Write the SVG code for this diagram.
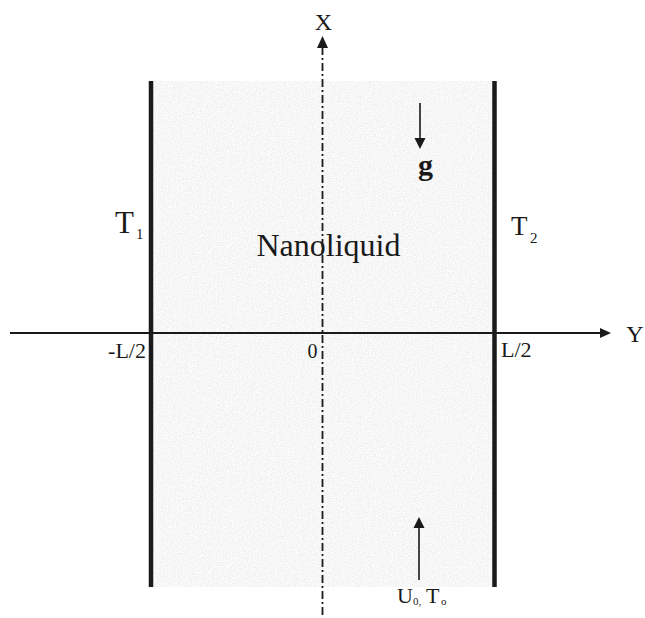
<svg xmlns="http://www.w3.org/2000/svg" width="645" height="618" viewBox="0 0 645 618">
  <style>
    text { font-family: "Liberation Serif", "Times New Roman", serif; fill: #1a1a1a; }
    .ax { stroke: #1a1a1a; stroke-width: 2; fill: none; }
    .wall { stroke: #1a1a1a; stroke-width: 4.5; fill: none; }
    .dash { stroke: #1a1a1a; stroke-width: 1.8; stroke-dasharray: 8 3 2 3; fill: none; }
    .arr { stroke: #1a1a1a; stroke-width: 1.6; fill: none; }
    .head { fill: #1a1a1a; }
  </style>
  <defs>
    <filter id="grain" x="0" y="0" width="100%" height="100%">
      <feTurbulence type="fractalNoise" baseFrequency="0.8" numOctaves="2" seed="7" result="n"/>
      <feColorMatrix in="n" type="saturate" values="0" result="g"/>
      <feComponentTransfer in="g">
        <feFuncR type="linear" slope="0.4" intercept="0.73"/>
        <feFuncG type="linear" slope="0.4" intercept="0.73"/>
        <feFuncB type="linear" slope="0.4" intercept="0.73"/>
        <feFuncA type="linear" slope="0" intercept="1"/>
      </feComponentTransfer>
    </filter>
  </defs>
  <rect width="645" height="618" fill="#ffffff"/>

  <g id="channel">
    <rect x="151" y="81" width="343" height="506" fill="#ececec"/>
    <rect x="151" y="81" width="343" height="506" filter="url(#grain)"/>
  </g>

  <g id="connectors">
    <line class="wall" x1="151" y1="81" x2="151" y2="587"/>
    <line class="wall" x1="494.5" y1="81" x2="494.5" y2="587"/>
    <line class="ax" x1="10" y1="333" x2="603" y2="333"/>
    <polygon class="head" points="611,333 600,328 600,338"/>
    <line class="dash" x1="322.5" y1="47" x2="322.5" y2="618"/>
    <polygon class="head" points="322.5,36 317,48 328,48"/>
    <line class="arr" x1="420" y1="103" x2="420" y2="140"/>
    <polygon class="head" points="420,149 414.5,138 425.5,138"/>
    <line class="arr" x1="419" y1="580" x2="419" y2="527"/>
    <polygon class="head" points="419,517 413.5,528 424.5,528"/>
  </g>

  <g id="label-x"><text x="323.5" y="30" font-size="24" text-anchor="middle">X</text></g>
  <g id="label-y"><text x="635" y="342" font-size="24" text-anchor="middle">Y</text></g>
  <g id="label-t1"><text x="115" y="233" font-size="31">T</text><text x="136" y="239" font-size="15">1</text></g>
  <g id="label-t2"><text x="511" y="235" font-size="27">T</text><text x="530" y="243" font-size="15">2</text></g>
  <g id="label-nano"><text x="328.5" y="256" font-size="32" text-anchor="middle">Nanoliquid</text></g>
  <g id="label-g"><text x="418" y="175" font-size="30" font-weight="bold">g</text></g>
  <g id="label-neg"><text x="146" y="358" font-size="22" text-anchor="end">-L/2</text></g>
  <g id="label-zero"><text x="307.5" y="358" font-size="20">0</text></g>
  <g id="label-pos"><text x="501" y="357" font-size="22">L/2</text></g>
  <g id="label-inlet"><text x="397" y="603" font-size="22">U</text><text x="413" y="605" font-size="11">0,</text><text x="426" y="603" font-size="22">T</text><text x="441" y="605" font-size="11">o</text></g>
</svg>
